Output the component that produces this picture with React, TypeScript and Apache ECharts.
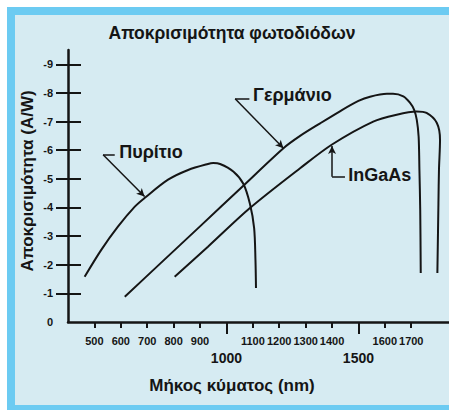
import { useEffect, useRef } from "react";
import * as echarts from "echarts";

// Wavelength (nm) / responsivity (A/W)
const siliconNm = [463, 526, 589, 653, 690, 779, 855, 930, 950, 976, 1026, 1064, 1089, 1105, 1110, 1112];
const siliconResp = [1.58, 2.52, 3.33, 4.03, 4.33, 4.97, 5.31, 5.52, 5.55, 5.52, 5.26, 4.83, 4.13, 3.28, 2.17, 1.19];

const germaniumNm = [615, 748, 900, 1064, 1216, 1279, 1355, 1430, 1500, 1544, 1608, 1631, 1670, 1695, 1711, 1721, 1728, 1731, 1734, 1736];
const germaniumResp = [0.88, 2.03, 3.34, 4.76, 6.07, 6.5, 6.94, 7.36, 7.72, 7.87, 7.97, 7.97, 7.88, 7.66, 7.41, 7.06, 6.47, 5.31, 3.92, 1.71];

const ingaasNm = [804, 930, 1089, 1279, 1400, 1556, 1645, 1720, 1758, 1797, 1809, 1805, 1803, 1799];
const ingaasResp = [1.58, 2.63, 3.98, 5.37, 6.2, 7.0, 7.24, 7.35, 7.3, 6.95, 6.36, 5.31, 4.16, 1.71];

// Axis ticks / labels
const xMinorTicks = [500, 600, 700, 800, 900, 1100, 1200, 1300, 1400, 1600, 1700];
const xMajorTicks = [1000, 1500];
const yTicks = [1, 2, 3, 4, 5, 6, 7, 8, 9];
const yLabelValues = [0, 1, 2, 3, 4, 5, 6, 7, 8, 9];
const yTickLabels = ["0", "-1", "-2", "-3", "-4", "-5", "-6", "-7", "-8", "-9"];

// Texts
const chartTitle = "Αποκρισιμότητα φωτοδιόδων";
const xName = "Μήκος κύματος (nm)";
const yName = "Αποκρισιμότητα (A/W)";
const seriesNames = ["Πυρίτιο", "Γερμάνιο", "InGaAs"];

// Annotation anchors in data space: [leader start, arrow tip, dash end, label anchor]
const siliconNote = [[533, 5.84], [690, 4.38], [577, 5.84], [594, 5.94]];
const germaniumNote = [[1033, 7.8], [1216, 6.07], [1087, 7.8], [1101, 7.94]];
const ingaasNote = [[1400, 5.07], [1400, 6.15], [1449, 5.07], [1461, 5.14]];

const INK = "#151515";
const BOLD = "'Liberation Sans', Arial, sans-serif";

function zip(xs: number[], ys: number[]) {
  return xs.map((x, i) => [x, ys[i]]);
}

function annotate(note: number[][], label: string) {
  return {
    markLine: {
      silent: true,
      animation: false,
      label: { show: false },
      lineStyle: { color: INK, width: 1.5, type: "solid" },
      emphasis: { disabled: true },
      data: [
        [
          { coord: note[0], symbol: "none" },
          { coord: note[1], symbol: "arrow", symbolSize: [6, 8] },
        ],
        [
          { coord: note[0], symbol: "none" },
          { coord: note[2], symbol: "none" },
        ],
      ],
    },
    markPoint: {
      silent: true,
      animation: false,
      data: [
        {
          coord: note[3],
          symbol: "circle",
          symbolSize: 0,
          label: {
            show: true,
            position: "right",
            distance: 0,
            formatter: label,
            color: INK,
            fontFamily: BOLD,
            fontWeight: "bold",
            fontSize: 18,
          },
        },
      ],
    },
  };
}

export default function App() {
  const ref = useRef<HTMLDivElement>(null);

  useEffect(() => {
    if (!ref.current) return;
    const chart = echarts.init(ref.current, null, { renderer: "svg" });
    const lineSeries = (name: string, data: number[][], note: number[][]) => ({
      name,
      type: "line",
      data,
      xAxisIndex: 0,
      yAxisIndex: 0,
      smooth: 0.3,
      showSymbol: false,
      symbol: "none",
      lineStyle: { color: INK, width: 2 },
      emphasis: { disabled: true },
      z: 3,
      ...annotate(note, name),
    });

    chart.setOption({
      animation: false,
      backgroundColor: "transparent",
      title: {
        text: chartTitle,
        left: 232,
        textAlign: "center",
        top: 24,
        padding: 0,
        textStyle: { color: INK, fontFamily: BOLD, fontWeight: "bold", fontSize: 17.5 },
      },
      grid: { left: 68, right: 0, top: 50, bottom: 88, containLabel: false },
      xAxis: [
        {
          type: "value",
          position: "bottom",
          min: 400,
          max: 1843,
          axisLine: { show: true, onZero: false, lineStyle: { color: INK, width: 2.5 } },
          axisTick: { show: true, customValues: xMinorTicks, length: 6, lineStyle: { color: INK, width: 2 } },
          axisLabel: {
            show: true,
            customValues: xMinorTicks,
            margin: 13,
            color: INK,
            fontFamily: BOLD,
            fontWeight: "bold",
            fontSize: 11,
            formatter: (v: number) => String(v),
          },
          splitLine: { show: false },
        },
        {
          type: "value",
          position: "bottom",
          offset: 0,
          min: 400,
          max: 1843,
          axisLine: { show: false },
          axisTick: { show: true, customValues: xMajorTicks, length: 12, lineStyle: { color: INK, width: 2 } },
          axisLabel: {
            show: true,
            customValues: xMajorTicks,
            margin: 29,
            color: INK,
            fontFamily: BOLD,
            fontWeight: "bold",
            fontSize: 14,
            formatter: (v: number) => String(v),
          },
          splitLine: { show: false },
        },
      ],
      yAxis: [
        {
          type: "value",
          position: "left",
          min: 0,
          max: 9.5,
          axisLine: { show: true, onZero: false, lineStyle: { color: INK, width: 2.5 } },
          axisTick: { show: true, customValues: yTicks, length: 12, lineStyle: { color: INK, width: 2 } },
          axisLabel: {
            show: true,
            customValues: yLabelValues,
            margin: 15,
            color: INK,
            fontFamily: BOLD,
            fontWeight: "bold",
            fontSize: 11,
            formatter: (v: number) => yTickLabels[yLabelValues.indexOf(Math.round(v))] ?? "",
          },
          splitLine: { show: false },
        },
        {
          type: "value",
          position: "left",
          offset: 0,
          min: 0,
          max: 9.5,
          axisLine: { show: false },
          axisTick: { show: true, inside: true, customValues: yTicks, length: 13, lineStyle: { color: INK, width: 2 } },
          axisLabel: { show: false },
          splitLine: { show: false },
        },
      ],
      graphic: [
        {
          type: "text",
          x: 232,
          y: 385,
          style: {
            text: xName,
            fill: INK,
            font: `bold 17px ${BOLD}`,
            align: "center",
            verticalAlign: "middle",
          },
        },
        {
          type: "text",
          x: 27,
          y: 181,
          rotation: Math.PI / 2,
          style: {
            text: yName,
            fill: INK,
            font: `bold 17px ${BOLD}`,
            align: "center",
            verticalAlign: "middle",
          },
        },
      ],
      series: [
        lineSeries(seriesNames[0], zip(siliconNm, siliconResp), siliconNote),
        lineSeries(seriesNames[1], zip(germaniumNm, germaniumResp), germaniumNote),
        lineSeries(seriesNames[2], zip(ingaasNm, ingaasResp), ingaasNote),
      ],
    });
    return () => chart.dispose();
  }, []);

  return (
    <div style={{ position: "fixed", left: 0, top: 0, width: 449, height: 410, background: "#ffffff", overflow: "hidden" }}>
      <div style={{ position: "absolute", left: 7, top: 7, right: -20, bottom: 0, background: "#6ccbf2" }} />
      <div style={{ position: "absolute", left: 15, top: 15, right: -20, bottom: 5, background: "#d6ebf2" }} />
      <div ref={ref} style={{ position: "absolute", left: 0, top: 0, width: 449, height: 410 }} />
    </div>
  );
}
